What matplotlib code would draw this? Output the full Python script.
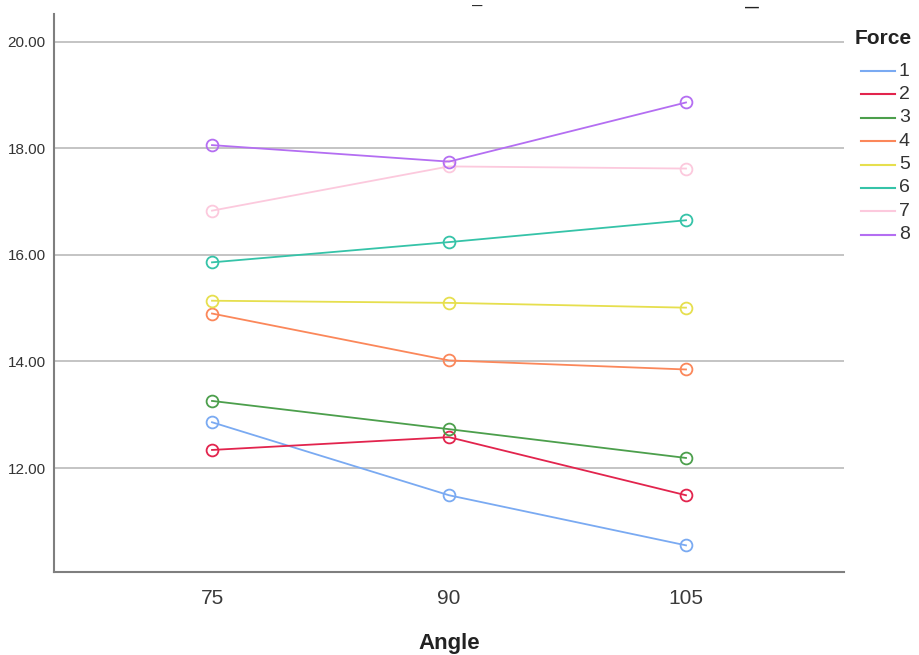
import matplotlib
matplotlib.use("Agg")
import matplotlib.pyplot as plt
from matplotlib.lines import Line2D

plt.rcParams['font.family'] = ['Liberation Sans', 'DejaVu Sans']

angles = [75, 90, 105]
force_levels = ['1', '2', '3', '4', '5', '6', '7', '8']
means = {
    '1': [12.86, 11.49, 10.55],
    '2': [12.34, 12.58, 11.49],
    '3': [13.26, 12.73, 12.19],
    '4': [14.90, 14.02, 13.85],
    '5': [15.14, 15.10, 15.01],
    '6': [15.86, 16.24, 16.65],
    '7': [16.83, 17.66, 17.62],
    '8': [18.06, 17.75, 18.86],
}
colors = ['#7aaaf2', '#e2244d', '#4c9f4c', '#fb875a', '#e6df4e', '#35c3a8', '#fcc9dd', '#b46ef2']
y_ticks = [12, 14, 16, 18, 20]

fig = plt.figure(figsize=(9.2, 6.55), dpi=100)
ax = fig.add_axes([54 / 920, 1 - 572 / 655, (844 - 54) / 920, (572 - 14) / 655])

for lvl, col in zip(force_levels, colors):
    ax.plot(angles, means[lvl], color=col, lw=1.3, marker='o', ms=8.5,
            mfc='none', mec=col, mew=1.3, zorder=3)

ax.set_xlim(65, 115)
ax.set_ylim(10.05, 20.52)
ax.set_xticks(angles)
ax.set_xticklabels([str(a) for a in angles], fontsize=15, color='#3a3a3a')
ax.set_yticks(y_ticks)
ax.set_yticklabels([f'{v:.2f}' for v in y_ticks], fontsize=11, color='#333333')
ax.tick_params(axis='both', length=0)
ax.tick_params(axis='x', pad=12)
ax.tick_params(axis='y', pad=6)
ax.grid(axis='y', color='#c4c4c4', lw=1.4, zorder=0)
for s in ['top', 'right']:
    ax.spines[s].set_visible(False)
for s in ['left', 'bottom']:
    ax.spines[s].set_color('#7f7f7f')
    ax.spines[s].set_linewidth(1.5)

ax.set_xlabel('Angle', fontsize=16, fontweight='bold', labelpad=18, color='#222222')

# remnants of the title at the top edge
fig.text(477 / 920, 1 - 2 / 655, '\u2014', fontsize=7.5, fontweight='bold',
         color='#222222', ha='center', va='top')
fig.text(752 / 920, 1 - 1 / 655, '\u2014', fontsize=10, fontweight='bold',
         color='#222222', ha='center', va='top')

# legend
fig.text(855 / 920, 1 - 44 / 655, 'Force', fontsize=15, fontweight='bold', color='#222222')
for i, (lvl, col) in enumerate(zip(force_levels, colors)):
    yy = 1 - (71 + i * 23.4) / 655
    fig.add_artist(Line2D([861 / 920, 895 / 920], [yy, yy], color=col, lw=1.5))
    fig.text(899 / 920, yy, lvl, fontsize=14, color='#333333', va='center')

fig.savefig('out.png', dpi=100)
